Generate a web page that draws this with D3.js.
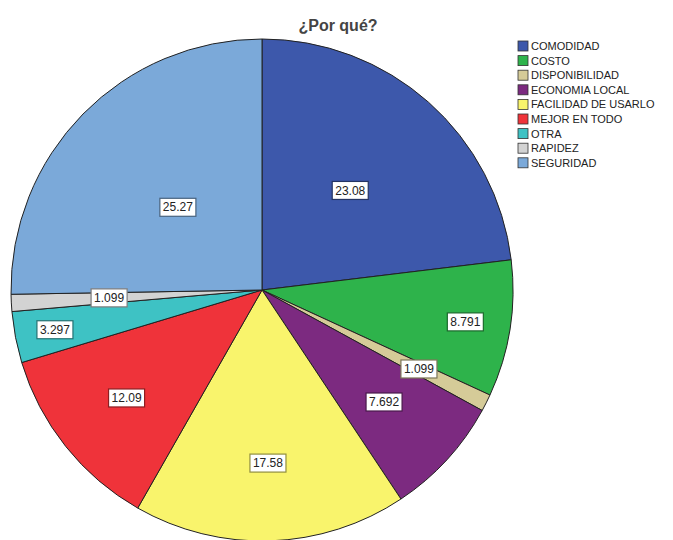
<!DOCTYPE html>
<html>
<head>
<meta charset="utf-8">
<script src="https://cdn.jsdelivr.net/npm/d3@7"></script>
<style>
  body { margin: 0; background: #fff; }
  svg { display: block; font-family: "Liberation Sans", Arial, sans-serif; }
</style>
</head>
<body>
<svg width="673" height="540"></svg>
<script>
// data
const categories = ['COMODIDAD', 'COSTO', 'DISPONIBILIDAD', 'ECONOMIA LOCAL', 'FACILIDAD DE USARLO',
                    'MEJOR EN TODO', 'OTRA', 'RAPIDEZ', 'SEGURIDAD'];
const values = [23.08, 8.791, 1.099, 7.692, 17.58, 12.09, 3.297, 1.099, 25.27];
const valueLabels = ['23.08', '8.791', '1.099', '7.692', '17.58', '12.09', '3.297', '1.099', '25.27'];

const sliceColors = ['#3d58ab', '#2eb34b', '#d5cb98', '#7c2a80', '#f9f46c',
                     '#ef333a', '#3ec2c4', '#d3d3d3', '#7ba9d9'];
// where each value box sits, as a fraction of the radius
const labelFrac = [0.53, 0.82, 0.70, 0.66, 0.69, 0.69, 0.84, 0.61, 0.47];

const svg = d3.select('svg');
const cx = 262, cy = 290, radius = 251;

svg.append('text')
    .attr('x', 338).attr('y', 31)
    .attr('text-anchor', 'middle')
    .attr('font-size', 16).attr('font-weight', 'bold')
    .attr('fill', '#444')
    .text('¿Por qué?');

let data = categories.map((c, i) => ({ label: c, value: values[i], text: valueLabels[i] }));

let color = d3.scaleOrdinal().domain(categories).range(sliceColors);
let pie = d3.pie().value((d) => d.value).sort(null);
let arcData = pie(data);
let arcGen = d3.arc().innerRadius(0).outerRadius(radius);

let g = svg.append('g').attr('transform', `translate(${cx},${cy})`);

g.selectAll('path')
    .data(arcData)
    .join('path')
    .attr('d', arcGen)
    .attr('fill', (d) => color(d.data.label))
    .attr('stroke', '#222')
    .attr('stroke-width', 1);

// value boxes
arcData.forEach((d, i) => {
    let mid = (d.startAngle + d.endAngle) / 2;
    let r = radius * labelFrac[i];
    let x = Math.sin(mid) * r, y = -Math.cos(mid) * r;
    let lg = g.append('g').attr('transform', `translate(${x},${y})`);
    let t = lg.append('text')
        .attr('text-anchor', 'middle')
        .attr('dy', '0.35em')
        .attr('font-size', 12)
        .attr('fill', '#222')
        .text(d.data.text);
    let w = t.node().getComputedTextLength() + 6;
    lg.insert('rect', 'text')
        .attr('x', -w / 2).attr('y', -9)
        .attr('width', w).attr('height', 18)
        .attr('fill', '#fff')
        .attr('stroke', d3.color(color(d.data.label)).darker(1.5))
        .attr('stroke-width', 1.2);
});

// legend
let legend = svg.append('g').attr('transform', 'translate(518,41)');
categories.forEach((c, i) => {
    let row = legend.append('g').attr('transform', `translate(0,${i * 14.6})`);
    row.append('rect')
        .attr('width', 10).attr('height', 10)
        .attr('fill', color(c))
        .attr('stroke', '#333').attr('stroke-width', 0.8);
    row.append('text')
        .attr('x', 13).attr('y', 9)
        .attr('font-size', 11)
        .attr('fill', '#222')
        .text(c);
});
</script>
</body>
</html>
